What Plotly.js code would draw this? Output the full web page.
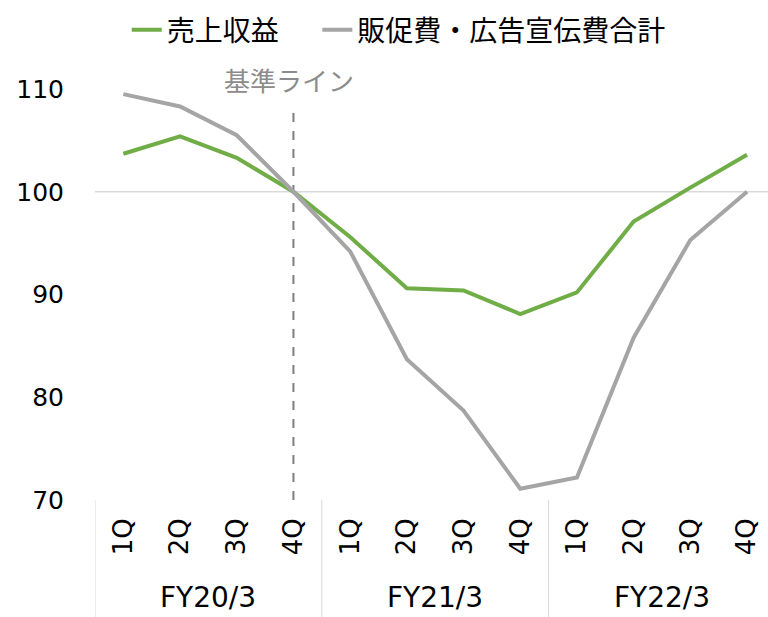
<!DOCTYPE html>
<html>
<head>
<meta charset="utf-8">
<script src="https://cdn.plot.ly/plotly-3.0.1.min.js"></script>
<style>html,body{margin:0;padding:0;background:#fff;}#chart{width:768px;height:617px;}</style>
</head>
<body>
<div id="chart"></div>
<script>
const fiscalYears = ['FY20/3', 'FY21/3', 'FY22/3'];
const quarters = ['1Q', '2Q', '3Q', '4Q'];
const seriesNames = ['売上収益', '販促費・広告宣伝費合計'];
const salesRevenue = [103.7, 105.4, 103.3, 100, 95.6, 90.6, 90.4, 88.1, 90.2, 97.1, 100.4, 103.6];
const promoAdCost = [109.5, 108.3, 105.5, 100, 94.2, 83.7, 78.7, 71.1, 72.2, 85.8, 95.3, 100];
const yTicks = [70, 80, 90, 100, 110];
const baseIndex = 3;          // 4Q of FY20/3
const baseLabel = '基準ライン';
const baseValue = 100;

const labels = [];
const xIdx = [];
fiscalYears.forEach((fy, g) => quarters.forEach((q, k) => {
  labels.push(q);
  xIdx.push(g * quarters.length + k);
}));

const latin = 'DejaVu Sans, Verdana, sans-serif';
const cjk = '"Noto Sans CJK JP", "Noto Sans CJK SC", sans-serif';

const traces = [
  {x: xIdx, y: salesRevenue, name: seriesNames[0] + '\u3000\u2009', type: 'scatter', mode: 'lines',
   line: {color: '#70AD47', width: 4}},
  {x: xIdx, y: promoAdCost, name: seriesNames[1], type: 'scatter', mode: 'lines',
   line: {color: '#A5A5A5', width: 4}}
];

const shapes = [
  {type: 'line', xref: 'paper', x0: 0, x1: 1, yref: 'y', y0: baseValue, y1: baseValue,
   line: {color: '#D9D9D9', width: 1.5}, layer: 'below'},
  {type: 'line', xref: 'x', x0: baseIndex, x1: baseIndex, yref: 'y', y0: 70, y1: 107.9,
   line: {color: '#7F7F7F', width: 2, dash: 'dash'}, layer: 'below'}
];
for (let g = 0; g < fiscalYears.length; g++) {
  const xb = g * quarters.length - 0.5;
  shapes.push({type: 'line', xref: 'x', x0: xb, x1: xb, yref: 'paper', y0: 0, y1: -0.3,
    line: {color: '#D9D9D9', width: 1}});
}

const annotations = fiscalYears.map((fy, g) => ({
  text: fy, xref: 'x', x: g * quarters.length + (quarters.length - 1) / 2,
  yref: 'paper', y: -0.238, yanchor: 'middle', showarrow: false,
  font: {family: latin, size: 28, color: '#000'}
}));
annotations.push({text: baseLabel, xref: 'x', x: baseIndex, xshift: -4, yref: 'paper', y: 1 + 10 / 411,
  yanchor: 'middle', showarrow: false, font: {family: cjk, size: 26, color: '#8C8C8C'}});

const layout = {
  width: 768, height: 617,
  margin: {l: 95, r: 0, t: 89, b: 117, pad: 0},
  paper_bgcolor: '#fff', plot_bgcolor: '#fff',
  showlegend: true,
  legend: {orientation: 'h', xref: 'container', yref: 'container', x: 0.165, xanchor: 'left',
    y: 1 - 30 / 617, yanchor: 'middle', font: {family: cjk, size: 28, color: '#000'},
    bgcolor: 'rgba(0,0,0,0)', tracegroupgap: 0},
  xaxis: {range: [-0.5, 11.37], tickmode: 'array', tickvals: xIdx, ticktext: labels,
    tickangle: -90, showgrid: false, zeroline: false, showline: false, ticks: '',
    ticklabelstandoff: 12, tickfont: {family: latin, size: 26, color: '#000'}, fixedrange: true},
  yaxis: {range: [70, 110], tickmode: 'array', tickvals: yTicks, showgrid: false,
    zeroline: false, showline: false, ticks: '', ticklabelstandoff: 30,
    tickfont: {family: latin, size: 25, color: '#000'}, fixedrange: true},
  shapes: shapes,
  annotations: annotations
};

Plotly.newPlot('chart', traces, layout, {displayModeBar: false, staticPlot: true});
</script>
</body>
</html>
